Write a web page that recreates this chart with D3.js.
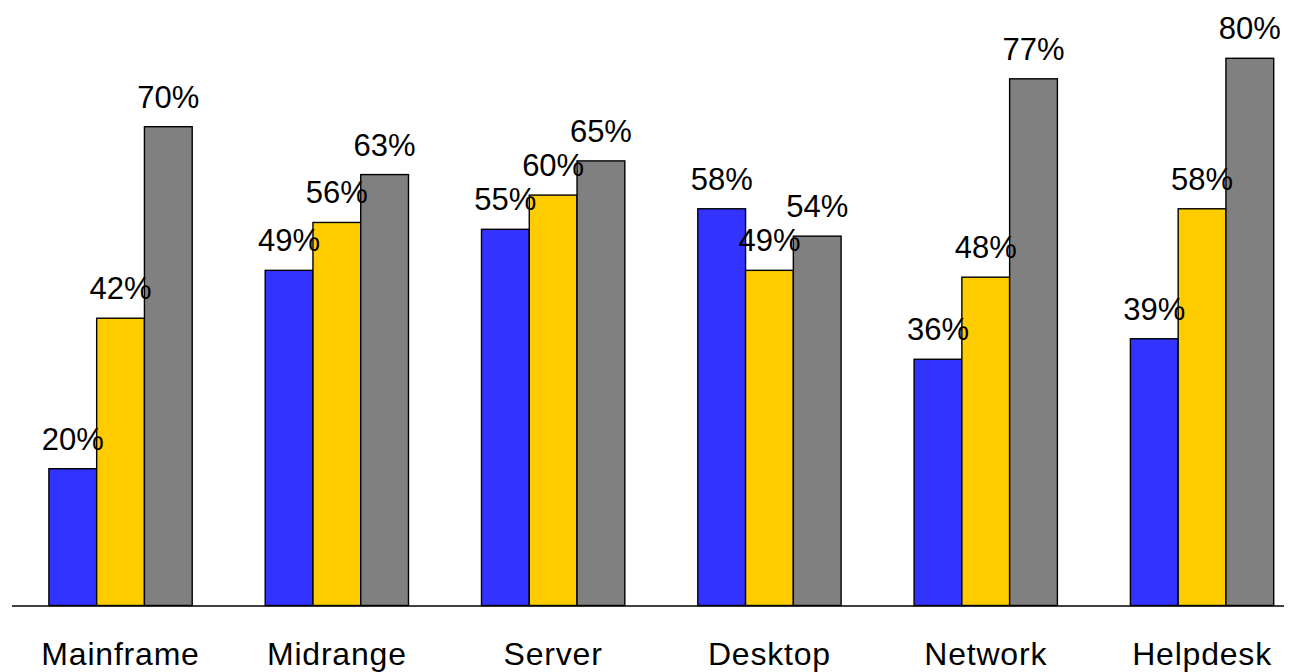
<!DOCTYPE html>
<html>
<head>
<meta charset="utf-8">
<script src="https://cdn.jsdelivr.net/npm/d3@7"></script>
<style>
  html, body { margin: 0; padding: 0; background: #ffffff; }
  svg { display: block; font-family: "Liberation Sans", Arial, sans-serif; }
</style>
</head>
<body>
<svg id="chart" width="1296" height="672"></svg>
<script>
// Categories and the three series (percent values)
const categories = ["Mainframe", "Midrange", "Server", "Desktop", "Network", "Helpdesk"];
const seriesNames = ["s1", "s2", "s3"];
const series1 = [20, 49, 55, 58, 36, 39];
const series2 = [42, 56, 60, 49, 48, 58];
const series3 = [70, 63, 65, 54, 77, 80];
const seriesColors = ["#3333ff", "#ffcc00", "#808080"];

const seriesValues = [series1, series2, series3];
const rows = categories.map((c, i) => ({
  category: c,
  values: seriesNames.map((s, j) => ({ key: s, value: seriesValues[j][i], color: seriesColors[j] }))
}));

const svg = d3.select("#chart");
const step = 216.3;
const x0Start = 12.4;
const pad = 0.3375;

const x = d3.scaleBand()
  .domain(categories)
  .range([x0Start, x0Start + step * categories.length])
  .paddingInner(pad)
  .paddingOuter(pad / 2);

const xs = d3.scaleBand()
  .domain(seriesNames)
  .range([0, x.bandwidth()]);

const y = d3.scaleLinear()
  .domain([0, 80])
  .range([605.5, 58.3]);

// Bars
const groups = svg.append("g").selectAll("g")
  .data(rows)
  .join("g")
  .attr("transform", d => `translate(${x(d.category)},0)`);

groups.selectAll("rect")
  .data(d => d.values)
  .join("rect")
  .attr("x", d => xs(d.key))
  .attr("y", d => y(d.value))
  .attr("width", xs.bandwidth())
  .attr("height", d => y(0) - y(d.value))
  .attr("fill", d => d.color)
  .attr("stroke", "#000")
  .attr("stroke-width", 1.4);

// Baseline
svg.append("line")
  .attr("x1", 12).attr("x2", 1284)
  .attr("y1", y(0) + 0.5).attr("y2", y(0) + 0.5)
  .attr("stroke", "#000")
  .attr("stroke-width", 1.3);

// Value labels drawn above all bars
const labels = svg.append("g");
rows.forEach(r => {
  r.values.forEach(v => {
    labels.append("text")
      .attr("x", x(r.category) + xs(v.key) + xs.bandwidth() / 2)
      .attr("y", y(v.value) - 19)
      .attr("text-anchor", "middle")
      .attr("font-size", 31)
      .attr("fill", "#000")
      .text(v.value + "%");
  });
});

// Category labels
svg.append("g").selectAll("text")
  .data(categories)
  .join("text")
  .attr("x", d => x(d) + x.bandwidth() / 2)
  .attr("y", 665)
  .attr("text-anchor", "middle")
  .attr("font-size", 32)
  .attr("letter-spacing", 0.8)
  .attr("fill", "#000")
  .text(d => d);
</script>
</body>
</html>
